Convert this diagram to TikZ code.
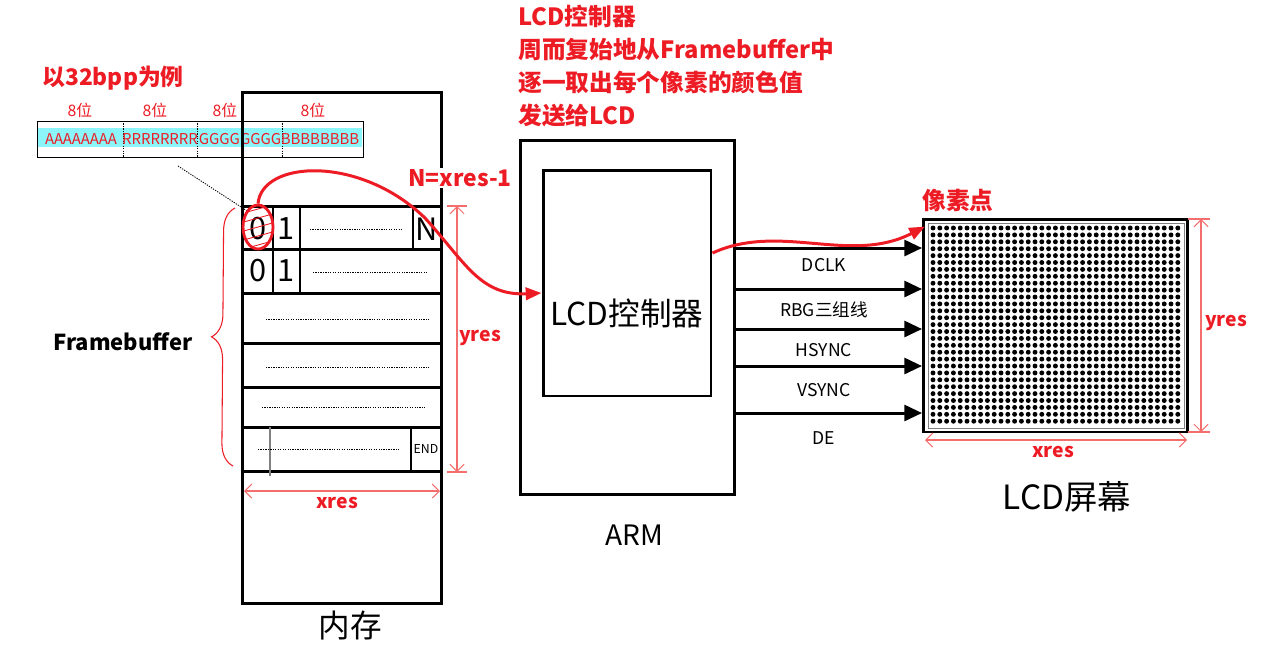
\documentclass[tikz,border=0pt]{standalone}
\usepackage{fontspec}
\setmainfont{Noto Sans CJK SC}
\usetikzlibrary{arrows.meta,shapes.geometric,decorations.pathreplacing}
\definecolor{hongse}{RGB}{237,28,36}
\definecolor{chise}{RGB}{245,110,110}
\definecolor{qing}{RGB}{140,245,250}
\newcommand{\zihao}[1]{\fontsize{#1}{#1}\selectfont}
\tikzset{
  kuang/.style={draw, line width=1.7pt, inner sep=0pt},
  hongxian/.style={hongse, line width=1.7pt, -{Triangle[length=9pt,width=7pt]}},
  xinhao/.style={line width=1.7pt, -{Triangle[length=10pt,width=9pt]}},
  chicun/.style={chise, line width=0.6pt, {Straight Barb[length=4pt,width=8pt]}-{Straight Barb[length=4pt,width=8pt]}},
  hongzi/.style={text=hongse, font=\bfseries\zihao{11}},
  dian/.style={line width=0.5pt, dash pattern=on 0.7pt off 0.7pt},
}
\begin{document}
\begin{tikzpicture}[x=0.02cm, y=-0.02cm]
  \useasboundingbox (0,0) rectangle (1263,654);
  % 32bpp
  \node[hongzi, font=\bfseries\zihao{13}] (bpp) at (113,78) {以32bpp为例};
  \fill[qing] (38,128) rectangle (362,147);
  \node[draw, line width=0.5pt, minimum width=6.52cm, minimum height=0.72cm, inner sep=0pt] (pix) at (200,139) {};
  \foreach \x in {123,197,282}
    \draw[dian] (\x,121) -- (\x,157);
  \foreach \x/\t [count=\i] in {81/AAAAAAAA,160/RRRRRRRR,240/GGGGGGGG,320/BBBBBBBB}
    \node[text=hongse, font=\zihao{8.5}, inner sep=0pt] (bit\i) at (\x,139) {\t};
  \foreach \x [count=\i] in {80,155,225,313}
    \node[text=hongse, font=\zihao{9}] (wei\i) at (\x,110) {8位};
  % neicun
  \node[kuang, minimum width=4cm, minimum height=10.24cm] (mem) at (342,348) {};
  \node[font=\zihao{18}] (memlab) at (350,625) {内存};
  \foreach \y in {206,249,293,343,387,427,471}
    \draw[line width=1.7pt] (mem.west |- 0,\y) -- (mem.east |- 0,\y);
  \draw[line width=0.9pt] (273,206) -- (273,249) (300,206) -- (300,249) (413,206) -- (413,249);
  \draw[line width=0.9pt] (273,249) -- (273,293) (300,249) -- (300,293);
  \draw[line width=0.9pt] (411,427) -- (411,471);
  \draw[gray, line width=0.9pt] (270,427) -- (270,476);
  \node[font=\zihao{17.5}] (r1c0) at (258,229) {0};
  \node[font=\zihao{17.5}] (r1c1) at (286,229) {1};
  \node[font=\zihao{17.5}] (r1cn) at (427,229) {N};
  \node[font=\zihao{17.5}] (r2c0) at (258,271) {0};
  \node[font=\zihao{17.5}] (r2c1) at (286,271) {1};
  \node[font=\zihao{7}] (endlab) at (426,449) {END};
  \draw[dian] (310,229) -- (402,229);
  \draw[dian] (313,272) -- (427,272);
  \draw[dian] (266,319) -- (429,319);
  \draw[dian] (266,367) -- (429,367);
  \draw[dian] (262,407) -- (425,407);
  \draw[dian] (258,449) -- (400,449);
  % pixel 0
  \begin{scope}
    \clip (258,227) ellipse (15 and 22);
    \foreach \k in {-3,...,3}
      \draw[hongse, line width=0.5pt] (240,227+\k*9+5) -- (276,227+\k*9-5);
  \end{scope}
  \node[ellipse, draw=hongse, line width=1.6pt, minimum width=0.6cm, minimum height=0.88cm, inner sep=0pt] (ell) at (258,227) {};
  \draw[dian] (178,166) -- (ell.north west);
  % framebuffer
  \draw[hongse, line width=0.6pt, decorate, decoration={brace, amplitude=0.45cm}] (233,466) -- (235,208);
  \node[font=\bfseries\zihao{12.5}] (fb) at (123,342) {Framebuffer};
  % chicun
  \draw[chise, line width=0.6pt] (447,206) -- (467,206) (447,472) -- (467,472);
  \draw[chicun] (457,206) -- (457,472);
  \node[hongzi] (yres1) at (480,338) {yres};
  \draw[chicun] (244,491) -- (440,491);
  \node[hongzi] (xres1) at (337,503) {xres};
  % ARM
  \node[kuang, minimum width=4.3cm, minimum height=7.1cm] (arm) at (627.5,317.5) {};
  \node[kuang, minimum width=3.36cm, minimum height=4.52cm] (lcdc) at (627,283) {};
  \node[font=\zihao{18}] (lcdclab) at (lcdc) [yshift=-0.6cm] {LCD控制器};
  \node[font=\zihao{16}] (armlab) at (634,535) {ARM};
  \node[hongzi, font=\bfseries\fontsize{13.5}{18.7}\selectfont, anchor=west, align=left, inner sep=0pt] (shuoming) at (518,66)
    {LCD控制器\\周而复始地从Framebuffer中\\逐一取出每个像素的颜色值\\发送给LCD};
  \node[hongzi, font=\bfseries\zihao{13}, fill=white, inner sep=1pt] (nlab) at (460,178) {N=xres-1};
  \draw[hongxian] (ell.north) .. controls (262,160) and (360,155) .. (425,218)
    .. controls (465,262) and (480,296) .. ([yshift=-0.2cm]lcdc.west);
  % pingmu
  \node[kuang, minimum width=5.28cm, minimum height=4.26cm] (screen) at (1055.5,325.5) {};
  \draw[gray, line width=0.5pt] (928,223) rectangle (1184,428);
  \foreach \i in {0,...,36}
    \foreach \j in {0,...,28}
      \fill (933+\i*6.8,228+\j*6.9) circle (1.4pt);
  \node[hongzi, font=\bfseries\zihao{13.5}] (xsd) at (958,200) {像素点};
  \node[font=\zihao{19}] (scrlab) at (1067,497) {LCD屏幕};
  \draw[chise, line width=0.6pt] (1188,219) -- (1210,219) (1188,432) -- (1210,432);
  \draw[chicun] (1201,219) -- (1201,432);
  \node[hongzi] (yres2) at (1226,323) {yres};
  \draw[chicun] (925,440) -- (1187,440);
  \node[hongzi] (xres2) at (1053,452) {xres};
  \draw[hongxian] ([yshift=0.6cm]lcdc.east) .. controls (780,222) and (850,265)
    .. ([shift={(0.06cm,-0.18cm)}]screen.north west);
  % xinhao
  \foreach \y in {248,289,329,366,413}
    \draw[xinhao] (arm.east |- 0,\y) -- (screen.west |- 0,\y);
  \foreach \y/\t [count=\i] in {265/DCLK,310/RBG三组线,350/HSYNC,390/VSYNC,438/DE}
    \node[font=\zihao{10}] (sig\i) at (824,\y) {\t};
\end{tikzpicture}
\end{document}
